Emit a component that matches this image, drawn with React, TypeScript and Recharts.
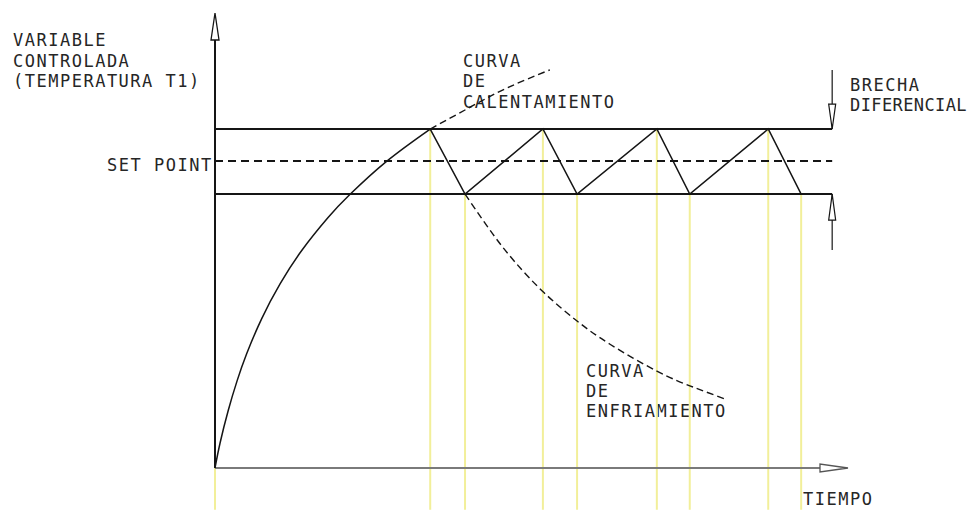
import React from 'react';
import {
  ComposedChart,
  Line,
  XAxis,
  YAxis,
  ReferenceLine,
  ReferenceDot,
  Customized,
} from 'recharts';

// Levels of the controlled variable (arbitrary units, 0..100 scale)
const UPPER_LIMIT = 74.5;
const SET_POINT = 67.5;
const LOWER_LIMIT = 60.2;
const GAP_END = 97.5; // time where the horizontal limit lines end
const AXIS_MAX_T = 100;
const AXIS_MAX_V = 100;
const BELOW_AXIS = -9.2; // yellow guide lines run down to the page bottom

// Heating curve (solid start-up curve)
const heatTimes = [0, 0.8, 2.1, 3.5, 5.0, 7.4, 10.3, 13.7, 17.9, 21.3, 27.1, 34.0];
const heatValues = [0, 5.5, 12.7, 19.2, 25.1, 32.9, 40.5, 47.8, 55.1, 60.1, 67.4, 74.5];

// Continuation of the heating curve (dashed)
const heatExtTimes = [34.0, 40.3, 46.1, 52.9];
const heatExtValues = [74.5, 79.3, 83.5, 87.5];

// Cooling curve (dashed)
const coolTimes = [39.5, 43.9, 47.5, 52.0, 57.2, 62.4, 69.8, 75.5, 80.9];
const coolValues = [60.2, 51.4, 45.1, 38.5, 32.3, 27.2, 21.3, 17.8, 15.0];

// Switching instants of the on/off controller (alternating upper/lower)
const switchTimes = [34.0, 39.5, 51.8, 57.2, 69.8, 75.0, 87.4, 92.6];

const toRows = (ts: number[], vs: number[]) => ts.map((t, i) => ({ t, v: vs[i] }));

const heatData = toRows(heatTimes, heatValues);
const heatExtData = toRows(heatExtTimes, heatExtValues);
const coolData = toRows(coolTimes, coolValues);
const sawData = switchTimes.map((t, i) => ({ t, v: i % 2 === 0 ? UPPER_LIMIT : LOWER_LIMIT }));

const INK = '#151515';
const YELLOW = '#f2ef9a';
const FONT = "'DejaVu Sans Mono', 'Liberation Mono', monospace";

const Labels = () => (
  <g fontFamily={FONT} fontSize={17} fill="#262626" style={{ letterSpacing: '1.5px' }}>
    <text x={13} y={46}>VARIABLE</text>
    <text x={13} y={67}>CONTROLADA</text>
    <text x={13} y={87}>(TEMPERATURA T1)</text>
    <text x={107} y={171}>SET POINT</text>
    <text x={463} y={67}>CURVA</text>
    <text x={463} y={87}>DE</text>
    <text x={463} y={108}>CALENTAMIENTO</text>
    <text x={850} y={91}>BRECHA</text>
    <text x={850} y={111} style={{ letterSpacing: '0.4px' }}>DIFERENCIAL</text>
    <text x={586} y={377}>CURVA</text>
    <text x={586} y={397}>DE</text>
    <text x={586} y={417}>ENFRIAMIENTO</text>
    <text x={803} y={505}>TIEMPO</text>
  </g>
);

const upArrowAxis = (p: any) => (
  <path
    d={`M${p.cx},${p.cy} L${p.cx - 4},${p.cy + 27} L${p.cx + 4},${p.cy + 27} Z`}
    fill="#fff"
    stroke={INK}
    strokeWidth={1.3}
  />
);

const rightArrowAxis = (p: any) => (
  <path
    d={`M${p.cx},${p.cy} L${p.cx - 28},${p.cy - 4} L${p.cx - 28},${p.cy + 4} Z`}
    fill="#fff"
    stroke="#555"
    strokeWidth={1.3}
  />
);

const downHead = (p: any) => (
  <path
    d={`M${p.cx},${p.cy} L${p.cx - 3.5},${p.cy - 25} L${p.cx + 3.5},${p.cy - 25} Z`}
    fill="#fff"
    stroke={INK}
    strokeWidth={1.2}
  />
);

const upHead = (p: any) => (
  <path
    d={`M${p.cx},${p.cy} L${p.cx - 3.5},${p.cy + 26} L${p.cx + 3.5},${p.cy + 26} Z`}
    fill="#fff"
    stroke={INK}
    strokeWidth={1.2}
  />
);

export default function App() {
  return (
    <div style={{ position: 'absolute', left: 0, top: 0, width: 970, height: 510, background: '#fff' }}>
      <ComposedChart
        width={970}
        height={510}
        margin={{ top: 13, left: 215, right: 122, bottom: 42 }}
      >
        <XAxis type="number" dataKey="t" domain={[0, AXIS_MAX_T]} hide allowDataOverflow />
        <YAxis type="number" dataKey="v" domain={[0, AXIS_MAX_V]} hide allowDataOverflow />

        {/* yellow guide lines */}
        <ReferenceLine
          segment={[{ x: 0, y: 0 }, { x: 0, y: BELOW_AXIS }]}
          stroke={YELLOW}
          strokeWidth={2}
          ifOverflow="visible"
        />
        {switchTimes.map((t, i) => (
          <ReferenceLine
            key={`y${i}`}
            segment={[{ x: t, y: i % 2 === 0 ? UPPER_LIMIT : LOWER_LIMIT }, { x: t, y: BELOW_AXIS }]}
            stroke={YELLOW}
            strokeWidth={2}
            ifOverflow="visible"
          />
        ))}

        {/* axes */}
        <ReferenceLine
          segment={[{ x: 0, y: 0 }, { x: AXIS_MAX_T - 4.4, y: 0 }]}
          stroke="#7a7a7a"
          strokeWidth={2}
          ifOverflow="visible"
        />
        <ReferenceLine
          segment={[{ x: 0, y: 0 }, { x: 0, y: AXIS_MAX_V - 5.9 }]}
          stroke={INK}
          strokeWidth={2}
          ifOverflow="visible"
        />
        <ReferenceDot x={0} y={AXIS_MAX_V} r={0} shape={upArrowAxis} ifOverflow="visible" />
        <ReferenceDot x={AXIS_MAX_T} y={0} r={0} shape={rightArrowAxis} ifOverflow="visible" />

        {/* limit lines and set point */}
        <ReferenceLine
          segment={[{ x: 0, y: UPPER_LIMIT }, { x: GAP_END, y: UPPER_LIMIT }]}
          stroke={INK}
          strokeWidth={2}
        />
        <ReferenceLine
          segment={[{ x: 0, y: LOWER_LIMIT }, { x: GAP_END, y: LOWER_LIMIT }]}
          stroke={INK}
          strokeWidth={2}
        />
        <ReferenceLine
          segment={[{ x: 0, y: SET_POINT }, { x: GAP_END, y: SET_POINT }]}
          stroke={INK}
          strokeWidth={2}
          strokeDasharray="8 5"
        />

        {/* differential gap arrows */}
        <ReferenceLine
          segment={[{ x: GAP_END, y: 87.5 }, { x: GAP_END, y: UPPER_LIMIT }]}
          stroke={INK}
          strokeWidth={1.2}
        />
        <ReferenceDot x={GAP_END} y={UPPER_LIMIT} r={0} shape={downHead} />
        <ReferenceLine
          segment={[{ x: GAP_END, y: 47.9 }, { x: GAP_END, y: LOWER_LIMIT }]}
          stroke={INK}
          strokeWidth={1.2}
        />
        <ReferenceDot x={GAP_END} y={LOWER_LIMIT} r={0} shape={upHead} />

        {/* curves */}
        <Line
          data={heatData}
          dataKey="v"
          type="natural"
          stroke={INK}
          strokeWidth={1.5}
          dot={false}
          isAnimationActive={false}
        />
        <Line
          data={heatExtData}
          dataKey="v"
          type="natural"
          stroke={INK}
          strokeWidth={1.4}
          strokeDasharray="7 4"
          dot={false}
          isAnimationActive={false}
        />
        <Line
          data={coolData}
          dataKey="v"
          type="natural"
          stroke={INK}
          strokeWidth={1.4}
          strokeDasharray="7 4"
          dot={false}
          isAnimationActive={false}
        />
        <Line
          data={sawData}
          dataKey="v"
          type="linear"
          stroke={INK}
          strokeWidth={1.5}
          dot={false}
          isAnimationActive={false}
        />

        <Customized component={Labels} />
      </ComposedChart>
    </div>
  );
}
